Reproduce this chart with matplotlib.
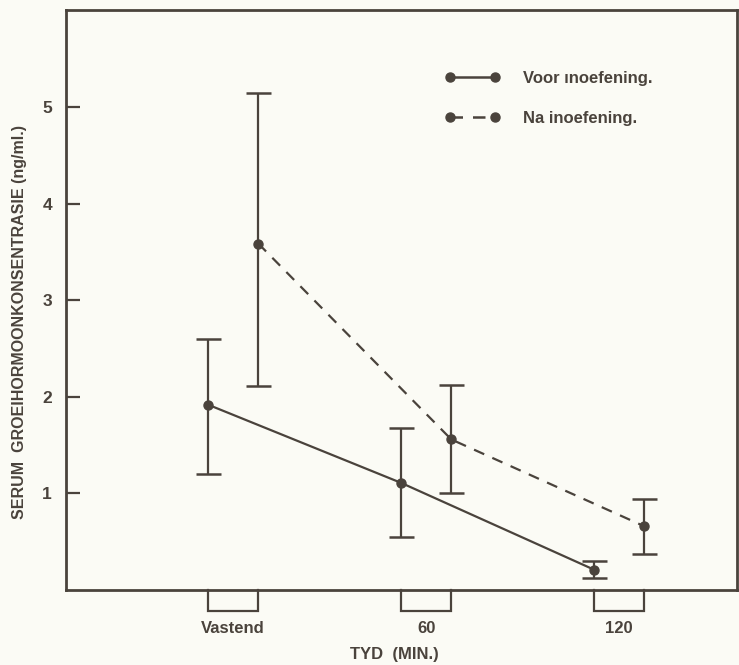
import numpy as np
import matplotlib
matplotlib.use('Agg')
import matplotlib.pyplot as plt
from matplotlib.lines import Line2D

plt.rcParams['font.family'] = ['Liberation Sans Narrow', 'Liberation Sans', 'DejaVu Sans']

# data
categories = ['Vastend', '60', '120']
voor_mean = [1.92, 1.11, 0.21]
voor_low = [1.20, 0.55, 0.12]
voor_high = [2.60, 1.68, 0.30]
na_mean = [3.59, 1.56, 0.66]
na_low = [2.11, 1.01, 0.37]
na_high = [5.15, 2.12, 0.94]
labels = ['Voor ınoefening.', 'Na inoefening.']

ink = '#4a433c'
paper = '#fbfbf5'

pos = np.arange(len(categories))
shift = 0.26  # offset of the second series within a category
dash = (0, (5, 4))

fig = plt.figure(figsize=(7.39, 6.65), dpi=100, facecolor=paper)
ax = fig.add_axes([0.0893, 0.1128, 0.9080, 0.8722], facecolor=paper)

def yerr(mean, low, high):
    mean = np.array(mean)
    return [mean - np.array(low), np.array(high) - mean]

ax.errorbar(pos, voor_mean, yerr=yerr(voor_mean, voor_low, voor_high),
            color=ink, lw=1.6, ls='-', marker='o', ms=6.5, capsize=9,
            capthick=1.8, elinewidth=1.6)
ax.errorbar(pos + shift, na_mean, yerr=yerr(na_mean, na_low, na_high),
            color=ink, lw=1.6, ls=dash, marker='o', ms=6.5, capsize=9,
            capthick=1.8, elinewidth=1.6)

ax.set_xlim(-0.736, 2.74)
ax.set_ylim(0, 6.01)

# brackets under the axis joining the two series of each category
depth = 0.22
for p, name in zip(pos, categories):
    ax.plot([p, p, p + shift, p + shift], [0, -depth, -depth, 0],
            color=ink, lw=1.6, clip_on=False, solid_joinstyle='miter')
    ax.text(p + shift / 2, -0.394, name, ha='center', va='center',
            fontsize=12, fontweight='bold', color=ink)

ax.set_xticks([])
ax.set_yticks([1, 2, 3, 4, 5])
ax.tick_params(axis='y', direction='in', length=10, width=1.6, colors=ink,
               labelsize=12.5, pad=10)
for lab in ax.get_yticklabels():
    lab.set_fontweight('bold')

for s in ax.spines.values():
    s.set_color(ink)
    s.set_linewidth(2)

ax.set_ylabel('SERUM  GROEIHORMOONKONSENTRASIE (ng/ml.)', fontsize=11.5,
              fontweight='bold', color=ink)
ax.yaxis.set_label_coords(-0.058, 0.462)
ax.text(0.49, -0.112, 'TYD  (MIN.)', transform=ax.transAxes, ha='center',
        va='center', fontsize=12, fontweight='bold', color=ink)

handles = [Line2D([], [], color=ink, lw=1.8, ls='-', marker='o', ms=6.5),
           Line2D([], [], color=ink, lw=1.8, ls=dash, marker='o', ms=6.5)]
leg = ax.legend(handles, labels, loc='upper left', bbox_to_anchor=(0.565, 0.895),
                frameon=False, numpoints=2, handlelength=3.3, handletextpad=1.4,
                labelspacing=1.5, borderpad=0, borderaxespad=0,
                prop={'size': 12, 'weight': 'bold'})
for t in leg.get_texts():
    t.set_color(ink)

fig.savefig('out.png', dpi=100, facecolor=paper)
